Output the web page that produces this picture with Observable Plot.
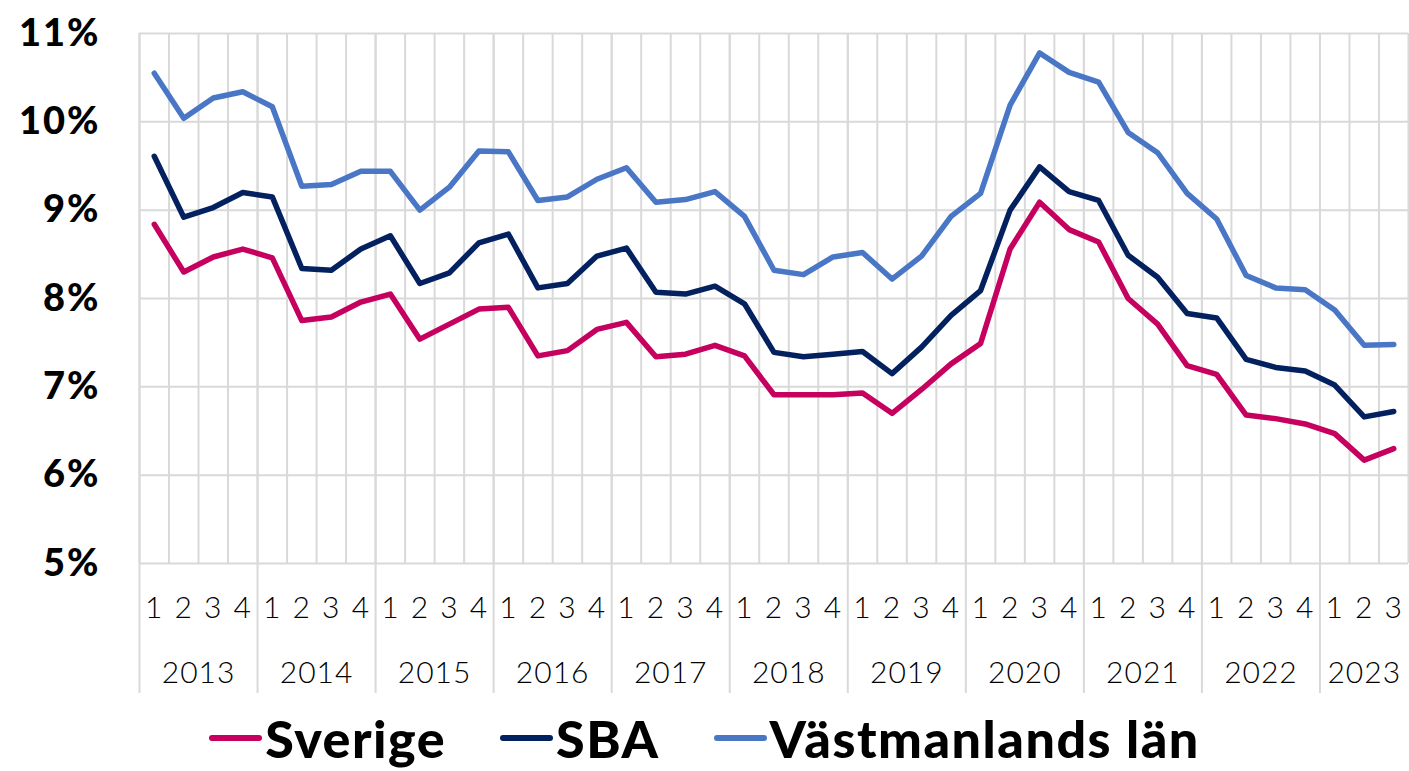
<!DOCTYPE html>
<html><head><meta charset="utf-8">
<script src="https://cdn.jsdelivr.net/npm/d3@7"></script>
<script src="https://cdn.jsdelivr.net/npm/@observablehq/plot@0.6"></script>
<style>
body{margin:0;background:#fff;}
#chart svg{display:block;overflow:visible;}
#chart svg g[aria-label="y-axis tick label"] text{letter-spacing:2px;}
#chart svg g[aria-label="x-axis tick label"] text{letter-spacing:1px;}
#legend{display:flex;justify-content:center;align-items:center;height:71px;padding-top:4px;box-sizing:border-box;font-family:Lato, sans-serif;font-weight:900;font-size:52px;letter-spacing:1.5px;color:#000;}
.item{display:flex;align-items:center;margin:0 27px;}
.sw{width:53px;height:6px;border-radius:3px;margin-right:3px;}
</style></head><body>
<div id="chart"></div><div id="legend"></div>
<script>
const years = [2013,2014,2015,2016,2017,2018,2019,2020,2021,2022,2023];
const quartersPerYear = [4,4,4,4,4,4,4,4,4,4,3];
const seriesNames = ["Sverige","SBA","Västmanlands län"];
const seriesColors = ["#C5005E","#03215F","#4A76C6"];
const yTicks = [5,6,7,8,9,10,11];

const sverige = [8.84,8.30,8.47,8.56, 8.46,7.75,7.79,7.96, 8.05,7.54,7.71,7.88, 7.90,7.35,7.41,7.65, 7.73,7.34,7.37,7.47, 7.35,6.91,6.91,6.91, 6.93,6.70,6.97,7.26, 7.49,8.56,9.09,8.78, 8.64,8.00,7.71,7.24, 7.14,6.68,6.64,6.58, 6.47,6.17,6.30];
const sba = [9.61,8.92,9.03,9.20, 9.15,8.34,8.32,8.56, 8.71,8.17,8.29,8.63, 8.73,8.12,8.17,8.48, 8.57,8.07,8.05,8.14, 7.94,7.39,7.34,7.37, 7.40,7.15,7.45,7.81, 8.09,9.00,9.49,9.21, 9.11,8.49,8.24,7.83, 7.78,7.31,7.22,7.18, 7.02,6.66,6.72];
const vastmanland = [10.55,10.04,10.27,10.34, 10.17,9.27,9.29,9.44, 9.44,9.00,9.26,9.67, 9.66,9.11,9.15,9.35, 9.48,9.09,9.12,9.21, 8.93,8.32,8.27,8.47, 8.52,8.22,8.48,8.93, 9.19,10.19,10.78,10.56, 10.45,9.88,9.65,9.19, 8.90,8.26,8.12,8.10, 7.87,7.47,7.48];
</script>
<script>
const periods = [];
years.forEach((y, k) => { for (let q = 1; q <= quartersPerYear[k]; q++) periods.push({year: y, q}); });
const n = periods.length;
const values = [sverige, sba, vastmanland];
const rows = [];
values.forEach((arr, s) => arr.slice(0, n).forEach((v, i) => rows.push({i, v, series: seriesNames[s]})));

const idx = periods.map((_, i) => i);
const boundaries = d3.range(n + 1).map(i => i - 0.5);
const yearStarts = [];
const yearCenters = [];
let acc = 0;
years.forEach((y, k) => { yearStarts.push(acc - 0.5); yearCenters.push(acc + (quartersPerYear[k] - 1) / 2); acc += quartersPerYear[k]; });

const plot = Plot.plot({
  width: 1409, height: 700,
  marginLeft: 139, marginRight: 1, marginTop: 33, marginBottom: 137,
  x: {type: "linear", domain: [-0.5, n - 0.5], axis: null},
  y: {domain: [5, 11], axis: null},
  color: {domain: seriesNames, range: seriesColors},
  style: {fontFamily: "Lato, sans-serif", background: "#fff", color: "#000"},
  marks: [
    Plot.ruleY(yTicks, {stroke: "#d9d9d9", strokeWidth: 2, strokeOpacity: 1}),
    Plot.ruleX(boundaries, {stroke: "#d9d9d9", strokeWidth: 2, strokeOpacity: 1}),
    Plot.ruleX(yearStarts, {stroke: "#d9d9d9", strokeWidth: 2, strokeOpacity: 1, insetBottom: -130}),
    Plot.axisY(yTicks, {label: null, tickSize: 0, tickPadding: 39, tickFormat: d => d + "%", fontSize: 38, fontWeight: 900}),
    Plot.axisX(idx, {label: null, tickSize: 0, tickPadding: 33, tickFormat: i => String(periods[i].q), fontSize: 30, fontWeight: 300}),
    Plot.axisX(yearCenters, {label: null, tickSize: 0, tickPadding: 98, tickFormat: (d, k) => String(years[k]), fontSize: 30, fontWeight: 300}),
    Plot.line(rows, {x: "i", y: "v", z: "series", stroke: "series", strokeWidth: 5.5, strokeLinejoin: "round"})
  ]
});
document.getElementById("chart").appendChild(plot);

const legend = document.getElementById("legend");
seriesNames.forEach((name, s) => {
  const item = document.createElement("div"); item.className = "item";
  const sw = document.createElement("div"); sw.className = "sw"; sw.style.background = seriesColors[s];
  const t = document.createElement("span"); t.textContent = name;
  item.appendChild(sw); item.appendChild(t); legend.appendChild(item);
});
</script>
</body></html>
